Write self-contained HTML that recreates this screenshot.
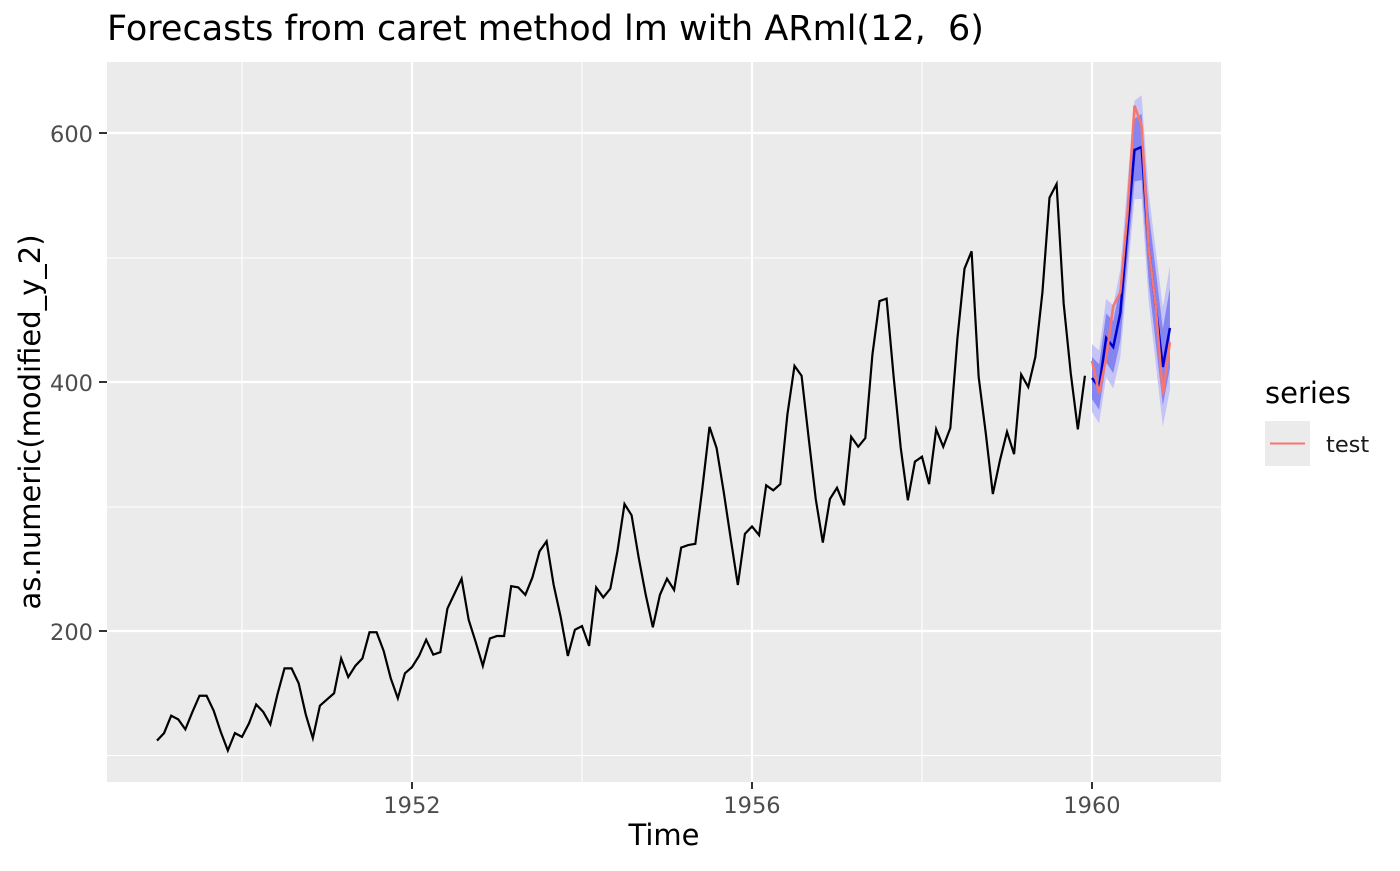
<!DOCTYPE html>
<html><head><meta charset="utf-8"><style>
body{margin:0;background:#fff;}
svg text{font-family:"DejaVu Sans",sans-serif;}
</style></head><body>
<svg id="s" width="1400" height="866" xmlns="http://www.w3.org/2000/svg">
<rect x="107" y="62" width="1114" height="720" fill="#ebebeb"/>
<g stroke="#fff" stroke-width="1.1">
<line x1="107" x2="1221" y1="755.5" y2="755.5"/><line x1="107" x2="1221" y1="507" y2="507"/><line x1="107" x2="1221" y1="258" y2="258"/>
<line x1="242" x2="242" y1="62" y2="782"/><line x1="582" x2="582" y1="62" y2="782"/><line x1="922" x2="922" y1="62" y2="782"/>
</g>
<g stroke="#fff" stroke-width="2.2">
<line x1="107" x2="1221" y1="631" y2="631"/><line x1="107" x2="1221" y1="382" y2="382"/><line x1="107" x2="1221" y1="133" y2="133"/>
<line x1="412" x2="412" y1="62" y2="782"/><line x1="752" x2="752" y1="62" y2="782"/><line x1="1092" x2="1092" y1="62" y2="782"/>
</g>
<g id="d"></g>
<g fill="#4d4d4d" font-size="22.5" text-anchor="end">
<text x="93" y="640">200</text><text x="93" y="391">400</text><text x="93" y="142">600</text>
</g>
<g stroke="#333" stroke-width="2"><line x1="99" x2="107" y1="631" y2="631"/><line x1="99" x2="107" y1="382" y2="382"/><line x1="99" x2="107" y1="133" y2="133"/>
<line x1="412" x2="412" y1="782" y2="789"/><line x1="752" x2="752" y1="782" y2="789"/><line x1="1092" x2="1092" y1="782" y2="789"/></g>
<g fill="#4d4d4d" font-size="22.5" text-anchor="middle">
<text x="412" y="813">1952</text><text x="752" y="813">1956</text><text x="1092" y="813">1960</text>
</g>
<text x="664" y="845" font-size="29" text-anchor="middle">Time</text>
<text transform="translate(40,422) rotate(-90)" font-size="29" text-anchor="middle">as.numeric(modified_y_2)</text>
<text x="107" y="40" font-size="35">Forecasts from caret method lm with ARml(12,&#160; 6)</text>
<text x="1265" y="403" font-size="29">series</text>
<rect x="1265" y="421" width="45" height="45" fill="#ebebeb"/>
<line x1="1270" x2="1305" y1="443.5" y2="443.5" stroke="#f8766d" stroke-width="2"/>
<text x="1326" y="452" font-size="22.5" fill="#1a1a1a">test</text>
</svg>
<script>
var ap=[112,118,132,129,121,135,148,148,136,119,104,118,115,126,141,135,125,149,170,170,158,133,114,140,145,150,178,163,172,178,199,199,184,162,146,166,171,180,193,181,183,218,230,242,209,191,172,194,196,196,236,235,229,243,264,272,237,211,180,201,204,188,235,227,234,264,302,293,259,229,203,229,242,233,267,269,270,315,364,347,312,274,237,278,284,277,317,313,318,374,413,405,355,306,271,306,315,301,356,348,355,422,465,467,404,347,305,336,340,318,362,348,363,435,491,505,404,359,310,337,360,342,406,396,420,472,548,559,463,407,362,405];
var te=[417,391,419,461,472,535,622,606,508,461,390,432];
var fy=[378,387,338,347,313,230,150,147,247,307,367,328];
function X(i){return 157+i*85/12}function Y(v){return 631-(v-200)*1.245}
var ns="http://www.w3.org/2000/svg",d=document.getElementById('d');
function add(tag,a){var e=document.createElementNS(ns,tag);for(var k in a)e.setAttribute(k,a[k]);d.appendChild(e);}
function band(w0,w1,col){var up=[],dn=[];for(var i=0;i<12;i++){var w=w0+(w1-w0)*i/11,x=X(132+i);up.push(x+','+(fy[i]-w));dn.unshift(x+','+(fy[i]+w));}add('polygon',{points:up.concat(dn).join(' '),fill:col});}
band(34,62,'#c4c4f6');band(21,40,'#8585f2');
add('polyline',{points:ap.map(function(v,i){return X(i)+','+Y(v)}).join(' '),fill:'none',stroke:'#000','stroke-width':2.2});
add('polyline',{points:fy.map(function(v,i){return X(132+i)+','+v}).join(' '),fill:'none',stroke:'#0000cc','stroke-width':2.5});
add('polyline',{points:te.map(function(v,i){return X(132+i)+','+Y(v)}).join(' '),fill:'none',stroke:'#f8766d','stroke-width':2.5});
</script>
</body></html>
